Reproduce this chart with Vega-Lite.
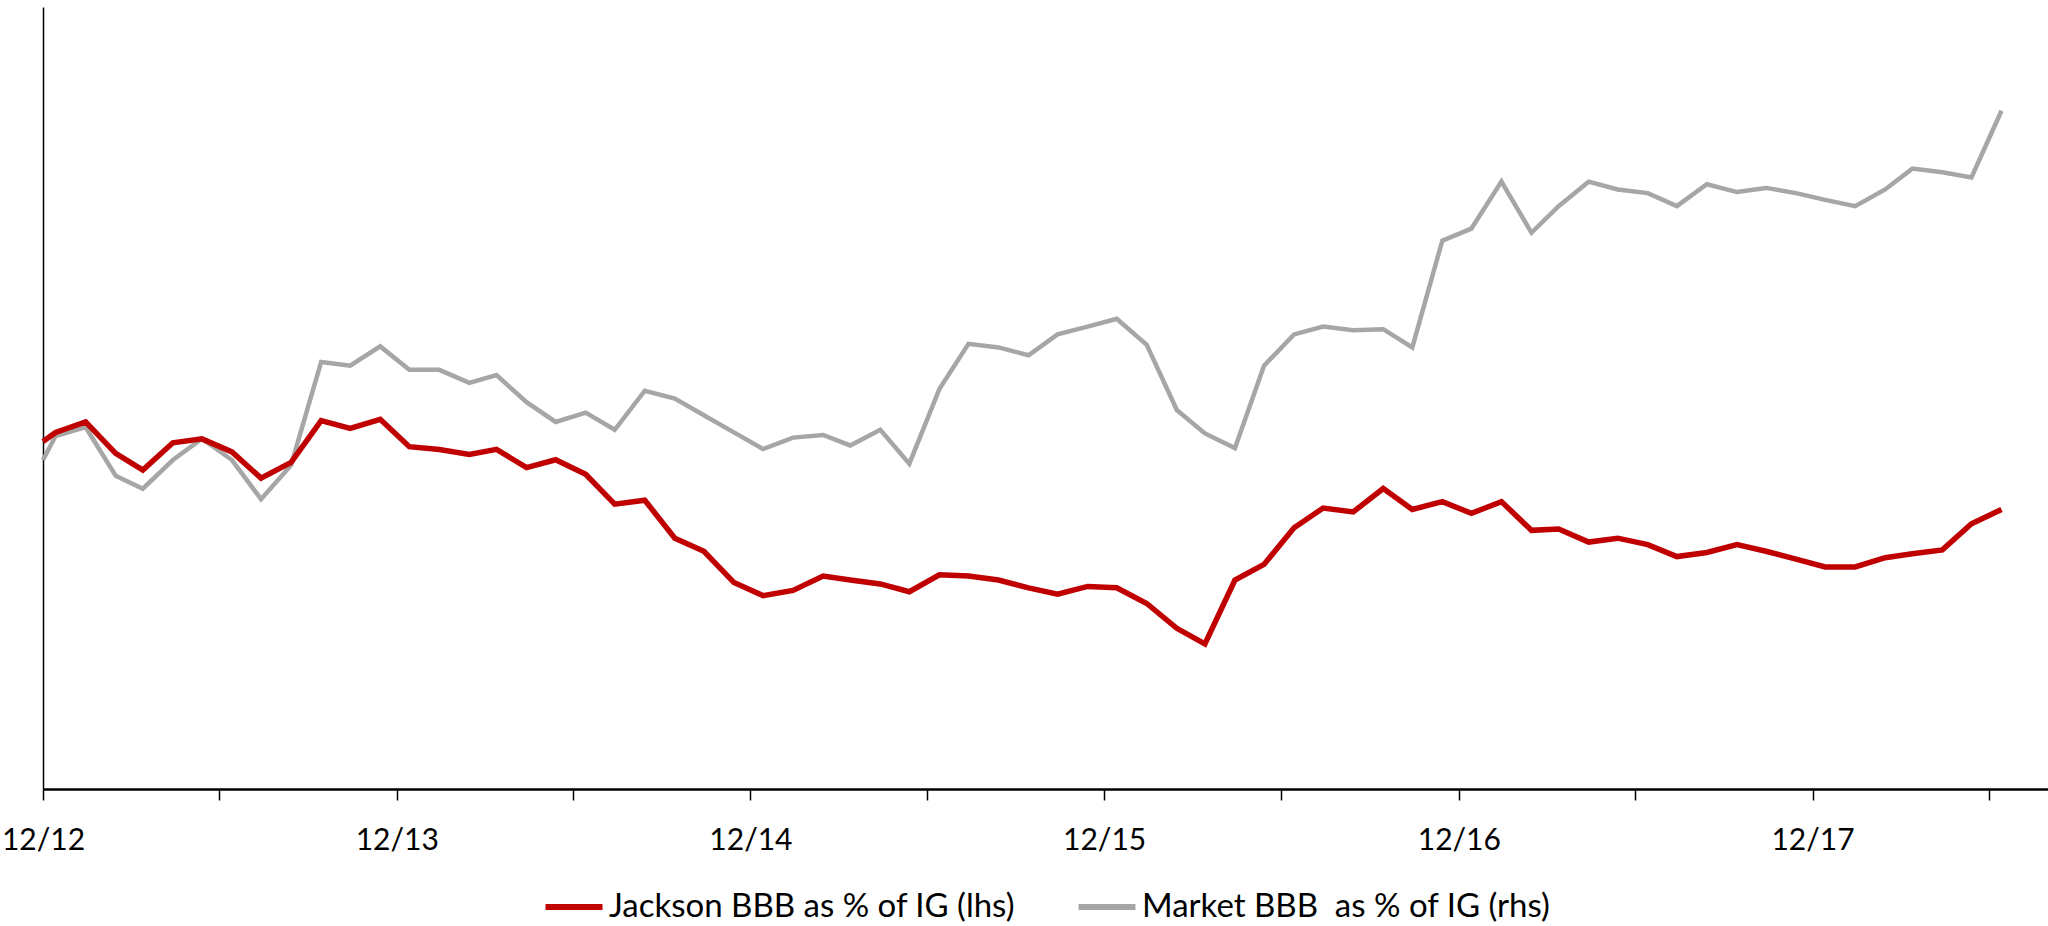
{
  "$schema": "https://vega.github.io/schema/vega-lite/v6.json",
  "width": 2005,
  "height": 782,
  "autosize": {"type": "none"},
  "padding": {"left": 43, "top": 7, "right": 0, "bottom": 137},
  "background": "white",
  "config": {"view": {"stroke": null}, "font": "Lato"},
  "data": {
    "values": [
      {"date": "2012-12-01", "jackson": 47.78, "market": 46.31},
      {"date": "2012-12-14", "jackson": 48.24, "market": 46.77},
      {"date": "2013-01-14", "jackson": 48.78, "market": 46.94},
      {"date": "2013-02-14", "jackson": 47.17, "market": 46.01},
      {"date": "2013-03-14", "jackson": 46.31, "market": 45.76},
      {"date": "2013-04-14", "jackson": 47.71, "market": 46.31},
      {"date": "2013-05-14", "jackson": 47.91, "market": 46.72},
      {"date": "2013-06-14", "jackson": 47.24, "market": 46.31},
      {"date": "2013-07-14", "jackson": 45.90, "market": 45.56},
      {"date": "2013-08-14", "jackson": 46.71, "market": 46.21},
      {"date": "2013-09-14", "jackson": 48.84, "market": 48.19},
      {"date": "2013-10-14", "jackson": 48.44, "market": 48.12},
      {"date": "2013-11-14", "jackson": 48.91, "market": 48.49},
      {"date": "2013-12-14", "jackson": 47.51, "market": 48.04},
      {"date": "2014-01-14", "jackson": 47.37, "market": 48.04},
      {"date": "2014-02-14", "jackson": 47.11, "market": 47.79},
      {"date": "2014-03-14", "jackson": 47.37, "market": 47.94},
      {"date": "2014-04-14", "jackson": 46.44, "market": 47.42},
      {"date": "2014-05-14", "jackson": 46.84, "market": 47.04},
      {"date": "2014-06-14", "jackson": 46.10, "market": 47.22},
      {"date": "2014-07-14", "jackson": 44.57, "market": 46.89},
      {"date": "2014-08-14", "jackson": 44.77, "market": 47.64},
      {"date": "2014-09-14", "jackson": 42.83, "market": 47.49},
      {"date": "2014-10-14", "jackson": 42.16, "market": 47.17},
      {"date": "2014-11-14", "jackson": 40.56, "market": 46.84},
      {"date": "2014-12-14", "jackson": 39.89, "market": 46.52},
      {"date": "2015-01-14", "jackson": 40.16, "market": 46.74},
      {"date": "2015-02-14", "jackson": 40.89, "market": 46.79},
      {"date": "2015-03-14", "jackson": 40.69, "market": 46.59},
      {"date": "2015-04-14", "jackson": 40.49, "market": 46.89},
      {"date": "2015-05-14", "jackson": 40.09, "market": 46.24},
      {"date": "2015-06-14", "jackson": 40.96, "market": 47.67},
      {"date": "2015-07-14", "jackson": 40.89, "market": 48.54},
      {"date": "2015-08-14", "jackson": 40.69, "market": 48.47},
      {"date": "2015-09-14", "jackson": 40.29, "market": 48.32},
      {"date": "2015-10-14", "jackson": 39.96, "market": 48.72},
      {"date": "2015-11-14", "jackson": 40.36, "market": 48.87},
      {"date": "2015-12-14", "jackson": 40.29, "market": 49.02},
      {"date": "2016-01-14", "jackson": 39.49, "market": 48.52},
      {"date": "2016-02-14", "jackson": 38.22, "market": 47.27},
      {"date": "2016-03-14", "jackson": 37.42, "market": 46.82},
      {"date": "2016-04-14", "jackson": 40.69, "market": 46.54},
      {"date": "2016-05-14", "jackson": 41.49, "market": 48.12},
      {"date": "2016-06-14", "jackson": 43.36, "market": 48.72},
      {"date": "2016-07-14", "jackson": 44.37, "market": 48.87},
      {"date": "2016-08-14", "jackson": 44.17, "market": 48.80},
      {"date": "2016-09-14", "jackson": 45.37, "market": 48.82},
      {"date": "2016-10-14", "jackson": 44.30, "market": 48.47},
      {"date": "2016-11-14", "jackson": 44.70, "market": 50.52},
      {"date": "2016-12-14", "jackson": 44.10, "market": 50.75},
      {"date": "2017-01-14", "jackson": 44.70, "market": 51.65},
      {"date": "2017-02-14", "jackson": 43.23, "market": 50.67},
      {"date": "2017-03-14", "jackson": 43.30, "market": 51.18},
      {"date": "2017-04-14", "jackson": 42.63, "market": 51.65},
      {"date": "2017-05-14", "jackson": 42.83, "market": 51.50},
      {"date": "2017-06-14", "jackson": 42.50, "market": 51.43},
      {"date": "2017-07-14", "jackson": 41.89, "market": 51.18},
      {"date": "2017-08-14", "jackson": 42.10, "market": 51.60},
      {"date": "2017-09-14", "jackson": 42.50, "market": 51.45},
      {"date": "2017-10-14", "jackson": 42.16, "market": 51.53},
      {"date": "2017-11-14", "jackson": 41.76, "market": 51.43},
      {"date": "2017-12-14", "jackson": 41.36, "market": 51.30},
      {"date": "2018-01-14", "jackson": 41.36, "market": 51.18},
      {"date": "2018-02-14", "jackson": 41.83, "market": 51.50},
      {"date": "2018-03-14", "jackson": 42.03, "market": 51.90},
      {"date": "2018-04-14", "jackson": 42.23, "market": 51.83},
      {"date": "2018-05-14", "jackson": 43.57, "market": 51.73},
      {"date": "2018-06-14", "jackson": 44.30, "market": 53.01}
    ]
  },
  "transform": [{"fold": ["jackson", "market"], "as": ["series", "value"]}],
  "encoding": {
    "x": {
      "field": "date",
      "type": "temporal",
      "scale": {
        "type": "utc",
        "domain": [
          {"year": 2012, "month": 12, "date": 1, "utc": true},
          {"year": 2018, "month": 8, "date": 1, "utc": true}
        ]
      },
      "axis": {
        "title": null,
        "grid": false,
        "values": [
          {"year": 2012, "month": 12, "date": 1, "utc": true},
          {"year": 2013, "month": 6, "date": 1, "utc": true},
          {"year": 2013, "month": 12, "date": 1, "utc": true},
          {"year": 2014, "month": 6, "date": 1, "utc": true},
          {"year": 2014, "month": 12, "date": 1, "utc": true},
          {"year": 2015, "month": 6, "date": 1, "utc": true},
          {"year": 2015, "month": 12, "date": 1, "utc": true},
          {"year": 2016, "month": 6, "date": 1, "utc": true},
          {"year": 2016, "month": 12, "date": 1, "utc": true},
          {"year": 2017, "month": 6, "date": 1, "utc": true},
          {"year": 2017, "month": 12, "date": 1, "utc": true},
          {"year": 2018, "month": 6, "date": 1, "utc": true}
        ],
        "labelExpr": "utcFormat(datum.value, '%m') == '12' ? utcFormat(datum.value, '%m/%y') : ''",
        "labelFontSize": 30,
        "labelColor": "black",
        "labelPadding": 25,
        "labelFlush": false,
        "labelOverlap": false,
        "domainColor": "black",
        "domainWidth": 2.5,
        "tickColor": "black",
        "tickWidth": 1.5,
        "tickSize": 11
      }
    },
    "color": {
      "field": "series",
      "type": "nominal",
      "scale": {"domain": ["jackson", "market"], "range": ["#C00000", "#A6A6A6"]},
      "legend": {
        "title": null,
        "orient": "none",
        "direction": "horizontal",
        "legendX": 499,
        "legendY": 868,
        "padding": 0,
        "symbolType": "stroke",
        "symbolSize": 3250,
        "symbolStrokeWidth": 6,
        "labelFontSize": 33,
        "labelColor": "black",
        "labelOffset": 3,
        "columnPadding": 50,
        "labelLimit": 600,
        "labelExpr": "datum.label == 'jackson' ? 'Jackson BBB as % of IG (lhs)' : 'Market BBB\u00a0 as % of IG (rhs)'"
      }
    }
  },
  "layer": [
    {
      "transform": [{"filter": "datum.series == 'market'"}],
      "mark": {"type": "line", "strokeWidth": 4.5, "strokeJoin": "miter"},
      "encoding": {
        "y": {
          "field": "value",
          "type": "quantitative",
          "scale": {"domain": [40, 55], "zero": false, "nice": false},
          "axis": null
        }
      }
    },
    {
      "transform": [{"filter": "datum.series == 'jackson'"}],
      "mark": {"type": "line", "strokeWidth": 5.5, "strokeJoin": "miter"},
      "encoding": {
        "y": {
          "field": "value",
          "type": "quantitative",
          "scale": {"domain": [30, 70], "zero": false, "nice": false},
          "axis": {
            "orient": "left",
            "title": null,
            "ticks": false,
            "labels": false,
            "grid": false,
            "domainColor": "black",
            "domainWidth": 1.5
          }
        }
      }
    }
  ],
  "resolve": {"scale": {"y": "independent"}}
}
